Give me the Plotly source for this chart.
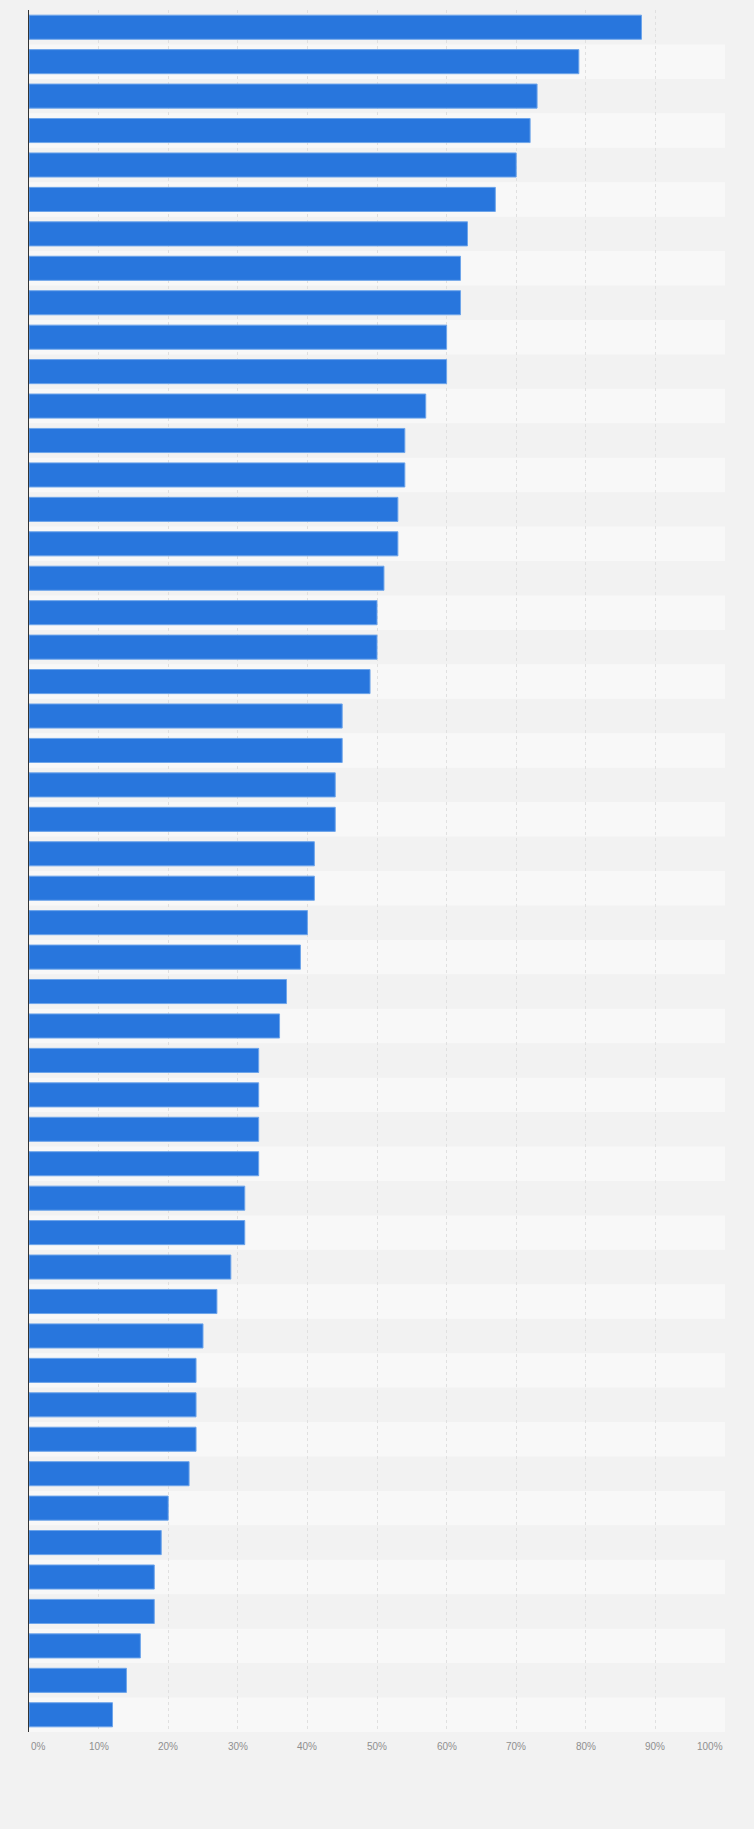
import plotly.graph_objects as go

# shares in percent, top bar first (no category labels shown on the chart)
values = [88, 79, 73, 72, 70, 67, 63, 62, 62, 60,
          60, 57, 54, 54, 53, 53, 51, 50, 50, 49,
          45, 45, 44, 44, 41, 41, 40, 39, 37, 36,
          33, 33, 33, 33, 31, 31, 29, 27, 25, 24,
          24, 24, 23, 20, 19, 18, 18, 16, 14, 12]
categories = ["Item %d" % (i + 1) for i in range(len(values))]
tick_vals = [0, 10, 20, 30, 40, 50, 60, 70, 80, 90, 100]
tick_text = ["0%", "10%", "20%", "30%", "40%", "50%", "60%", "70%", "80%", "90%", "100%"]

fig = go.Figure()
fig.add_trace(go.Bar(
    x=values, y=categories, orientation="h",
    marker=dict(color="#2876dd", line=dict(color="#6ea5ea", width=1)),
    hoverinfo="x+y",
))

# alternating row bands, darker one on top
shapes = []
for i in range(0, len(categories), 2):
    shapes.append(dict(type="rect", xref="x domain", yref="y", x0=0, x1=1,
                       y0=i - 0.5, y1=i + 0.5, fillcolor="#f2f2f2",
                       line=dict(width=0), layer="below"))

# tick labels as annotations so the end ones sit inside the plot edges
annos = []
for i, (v, t) in enumerate(zip(tick_vals, tick_text)):
    anchor = "center"
    if i == 0:
        anchor = "left"
    elif i == len(tick_vals) - 1:
        anchor = "right"
    annos.append(dict(x=v, y=0, xref="x", yref="paper", text=t, showarrow=False,
                      xanchor=anchor, yanchor="middle", yshift=-14,
                      font=dict(size=10, color="#8f8f8f", family="Liberation Sans, Arial")))

fig.update_layout(
    width=754, height=1829,
    margin=dict(l=29, r=29, t=10, b=97),
    paper_bgcolor="#f2f2f2", plot_bgcolor="#f8f8f8",
    bargap=0.3, showlegend=False,
    shapes=shapes, annotations=annos,
)
fig.update_xaxes(range=[0, 100], tickvals=tick_vals, showticklabels=False,
                 showgrid=True, gridcolor="#e0e0e0", griddash="dot", gridwidth=1,
                 zeroline=False, fixedrange=True)
fig.update_yaxes(autorange="reversed", showticklabels=False, showgrid=False,
                 showline=True, linecolor="#333333", linewidth=1,
                 ticks="", zeroline=False, fixedrange=True)

# drop the browser's default page margin so the chart fills the window
fig.write_html("out.html", config={"displayModeBar": False},
               post_script="document.body.style.margin='0';")
